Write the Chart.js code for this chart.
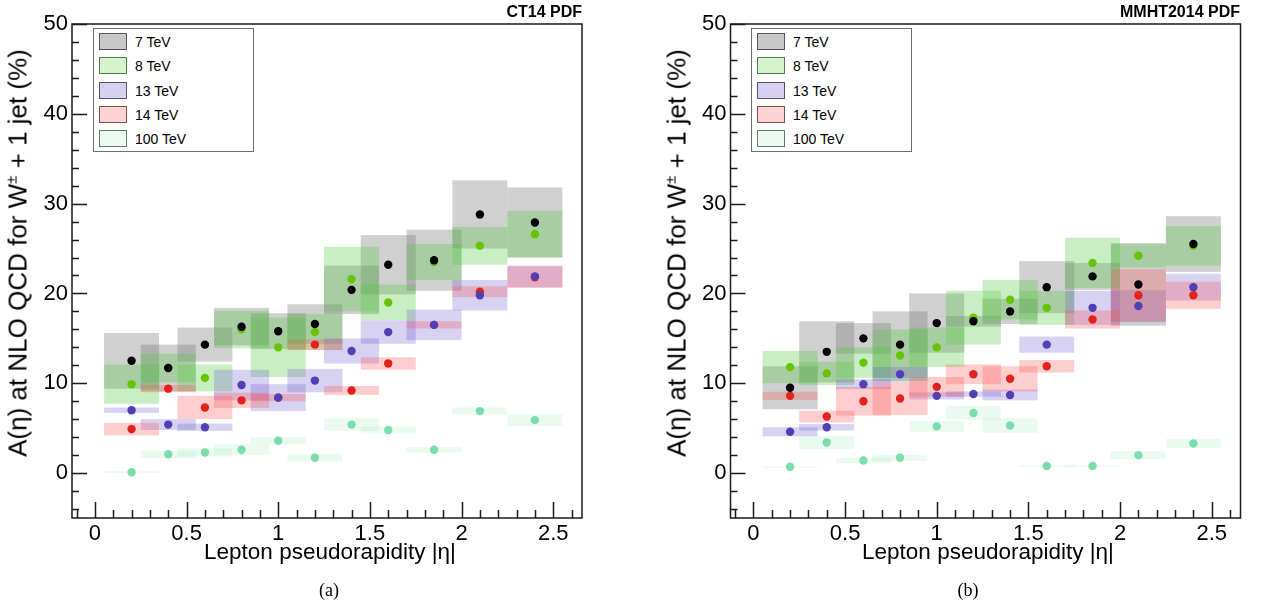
<!DOCTYPE html>
<html>
<head>
<meta charset="utf-8">
<script src="https://cdn.jsdelivr.net/npm/chart.js@4.4.1/dist/chart.umd.min.js"></script>
<style>
  body { margin: 0; width: 1265px; height: 607px; background: #fff; position: relative; overflow: hidden;
         font-family: "Liberation Sans", Arial, sans-serif; color: #000; }
  canvas { position: absolute; top: 0; }
  .ytitle { position: absolute; white-space: nowrap; font-size: 26px; transform: translate(-50%, -50%) rotate(-90deg); }
  .xtitle { position: absolute; white-space: nowrap; font-size: 22.5px; transform: translate(-50%, -50%); }
  .ptitle { position: absolute; white-space: nowrap; font-size: 16px; font-weight: bold; transform: translateX(-100%); }
  .caption { position: absolute; white-space: nowrap; font-size: 18px; font-family: "Liberation Serif", "DejaVu Serif", serif; transform: translate(-50%, -50%); }
  .legend { position: absolute; border: 1.5px solid #6e6e6e; background: #fff; width: 159px; height: 122px; }
  .legend .row { position: absolute; left: 5px; height: 18px; width: 150px; }
  .legend .sw { position: absolute; left: 0; top: 0; width: 26px; height: 15px; border: 1.5px solid #555; }
  .legend .lab { position: absolute; left: 36px; top: 0; font-size: 14px; line-height: 18px; white-space: nowrap; }
  sup { font-size: 15px; line-height: 0; }
</style>
</head>
<body>
<canvas id="chartCT14" width="640" height="607" style="left:0"></canvas>
<canvas id="chartMMHT" width="625" height="607" style="left:640px"></canvas>

<div class="ptitle" style="left:582px; top:3px">CT14 PDF</div>
<div class="ptitle" style="left:1240px; top:3px">MMHT2014 PDF</div>

<div class="ytitle" style="left:18px; top:253px">A(η) at NLO QCD for W<sup>±</sup> + 1 jet (%)</div>
<div class="ytitle" style="left:677px; top:253px">A(η) at NLO QCD for W<sup>±</sup> + 1 jet (%)</div>

<div class="xtitle" style="left:330px; top:552px">Lepton pseudorapidity |η|</div>
<div class="xtitle" style="left:988px; top:552px">Lepton pseudorapidity |η|</div>

<div class="caption" style="left:329px; top:590px">(a)</div>
<div class="caption" style="left:968px; top:590px">(b)</div>

<div class="legend" id="legendCT14" style="left:93px; top:28px"></div>
<div class="legend" id="legendMMHT" style="left:751px; top:28px"></div>

<script>
// bins in |eta|, each box is +-0.15 wide around the centre
const etaBins = [0.2, 0.4, 0.6, 0.8, 1.0, 1.2, 1.4, 1.6, 1.85, 2.1, 2.4];
const binHalfWidth = 0.15;

const seriesLabels = ["7 TeV", "8 TeV", "13 TeV", "14 TeV", "100 TeV"];
const pointColors = ["#000000", "#66c400", "#5040b4", "#e2231d", "#7ddcab"];
const boxColors = ["rgba(120,120,120,0.35)", "rgba(80,200,60,0.30)", "rgba(110,90,210,0.28)",
                   "rgba(250,80,80,0.28)", "rgba(100,220,150,0.13)"];
const swatchColors = ["#c8c8c8", "#d6f4cc", "#d6cff0", "#fcd2d2", "#ecfaf1"];
const swatchBorders = ["#555555", "#4f7a4f", "#55507a", "#7a5050", "#64786c"];

const yTickVals = [0, 10, 20, 30, 40, 50];
const xTickVals = [0, 0.5, 1, 1.5, 2, 2.5];

// (a) CT14 PDF
const ct14_7    = [12.5, 11.7, 14.3, 16.3, 15.8, 16.6, 20.4, 23.2, 23.7, 28.8, 27.9];
const ct14_7e   = [3.1, 2.6, 1.9, 2.1, 2.0, 2.2, 2.7, 3.3, 3.4, 3.8, 3.9];
const ct14_8    = [9.9, 11.7, 10.6, 16.0, 14.0, 15.7, 21.6, 19.0, 23.5, 25.3, 26.6];
const ct14_8e   = [2.2, 1.6, 1.5, 2.1, 3.3, 2.0, 3.6, 2.0, 2.0, 2.1, 2.6];
const ct14_13   = [7.0, 5.4, 5.1, 9.8, 8.4, 10.3, 13.6, 15.7, 16.5, 19.8, 21.9];
const ct14_13e  = [0.3, 0.6, 0.4, 1.7, 1.5, 1.3, 1.4, 1.3, 1.7, 1.7, 1.2];
const ct14_14   = [4.9, 9.4, 7.3, 8.1, 8.4, 14.3, 9.2, 12.2, 16.5, 20.2, 21.8];
const ct14_14e  = [0.7, 0.4, 1.3, 0.85, 0.4, 0.6, 0.5, 0.7, 0.4, 0.6, 1.2];
const ct14_100  = [0.1, 2.1, 2.3, 2.6, 3.6, 1.7, 5.4, 4.8, 2.6, 6.9, 5.9];
const ct14_100e = [0.1, 0.4, 0.45, 0.6, 0.4, 0.4, 0.7, 0.4, 0.3, 0.4, 0.65];

// (b) MMHT2014 PDF
const mmht_7    = [9.5, 13.5, 15.0, 14.3, 16.7, 16.9, 18.0, 20.7, 21.9, 21.0, 25.5];
const mmht_7e   = [2.4, 3.4, 1.7, 3.7, 3.3, 0.6, 1.4, 2.9, 1.5, 4.6, 3.1];
const mmht_8    = [11.8, 11.1, 12.3, 13.1, 14.0, 17.3, 19.3, 18.4, 23.4, 24.2, 25.3];
const mmht_8e   = [1.8, 1.3, 1.7, 2.9, 2.2, 3.0, 2.2, 1.9, 2.8, 1.3, 2.2];
const mmht_13   = [4.6, 5.1, 9.9, 11.0, 8.6, 8.8, 8.7, 14.3, 18.4, 18.6, 20.7];
const mmht_13e  = [0.5, 0.35, 0.55, 0.8, 0.4, 0.3, 0.6, 0.9, 1.9, 1.8, 1.5];
const mmht_14   = [8.6, 6.3, 8.0, 8.3, 9.6, 11.0, 10.5, 11.9, 17.1, 19.8, 19.8];
const mmht_14e  = [0.45, 0.65, 1.6, 1.85, 1.1, 1.1, 1.4, 0.7, 1.0, 2.9, 1.5];
const mmht_100  = [0.7, 3.4, 1.4, 1.7, 5.2, 6.7, 5.3, 0.8, 0.8, 2.0, 3.3];
const mmht_100e = [0.05, 0.75, 0.3, 0.35, 0.6, 0.75, 0.8, 0.05, 0.05, 0.45, 0.5];

const FONT = '"Liberation Sans", Arial, sans-serif';

// error boxes under the points, frame and inward ticks on top (ROOT look)
function makeBoxPlugin(vals, errs) {
  return {
    id: "errBoxes",
    beforeDatasetsDraw(chart) {
      const { ctx, chartArea: a, scales: { x, y } } = chart;
      ctx.save();
      ctx.beginPath();
      ctx.rect(a.left, a.top, a.width, a.height);
      ctx.clip();
      vals.forEach((series, s) => {
        ctx.fillStyle = boxColors[s];
        series.forEach((v, i) => {
          const e = errs[s][i];
          const x0 = x.getPixelForValue(etaBins[i] - binHalfWidth);
          const x1 = x.getPixelForValue(etaBins[i] + binHalfWidth);
          const y0 = y.getPixelForValue(v + e);
          const y1 = y.getPixelForValue(v - e);
          ctx.fillRect(x0, y0, x1 - x0, Math.max(y1 - y0, 1.5));
        });
      });
      ctx.restore();
    },
    afterDraw(chart) {
      const { ctx, chartArea: a, scales: { x, y } } = chart;
      ctx.save();
      ctx.strokeStyle = "#1a1a1a";
      ctx.lineWidth = 1.5;
      ctx.strokeRect(a.left, a.top, a.width, a.height);
      ctx.beginPath();
      for (let k = -2; k <= 25; k++) {
        const py = Math.round(y.getPixelForValue(k * 2)) + 0.5;
        const len = (k * 2) % 10 === 0 ? 15 : 7;
        ctx.moveTo(a.left, py);
        ctx.lineTo(a.left + len, py);
      }
      for (let k = -1; k <= 26; k++) {
        const px = Math.round(x.getPixelForValue(k / 10)) + 0.5;
        const len = k % 5 === 0 ? 16 : 8;
        ctx.moveTo(px, a.bottom);
        ctx.lineTo(px, a.bottom - len);
      }
      ctx.stroke();
      ctx.restore();
    }
  };
}

function buildPanel(canvasId, vals, errs, yAxisWidth, padRight) {
  const datasets = vals.map((series, s) => ({
    label: seriesLabels[s],
    data: series.map((v, i) => ({ x: etaBins[i], y: v })),
    pointRadius: 4.2,
    pointBackgroundColor: pointColors[s],
    pointBorderWidth: 0,
    showLine: false
  }));

  return new Chart(document.getElementById(canvasId), {
    type: "scatter",
    data: { datasets },
    options: {
      responsive: false,
      animation: false,
      events: [],
      layout: { padding: { top: 24, right: padRight, left: 0, bottom: 0 } },
      plugins: { legend: { display: false }, tooltip: { enabled: false } },
      scales: {
        x: {
          type: "linear", min: -0.125, max: 2.657,
          grid: { display: false, drawTicks: false },
          border: { display: false },
          afterBuildTicks: s => { s.ticks = xTickVals.map(v => ({ value: v })); },
          afterFit: s => { s.height = 89; },
          ticks: { font: { family: FONT, size: 22 }, color: "#000", padding: 3,
                   maxRotation: 0, autoSkip: false, callback: v => String(v) }
        },
        y: {
          type: "linear", min: -5, max: 50,
          grid: { display: false, drawTicks: false },
          border: { display: false },
          afterBuildTicks: s => { s.ticks = yTickVals.map(v => ({ value: v })); },
          afterFit: s => { s.width = yAxisWidth; },
          ticks: { font: { family: FONT, size: 22 }, color: "#000", padding: 4, callback: v => String(v) }
        }
      }
    },
    plugins: [makeBoxPlugin(vals, errs)]
  });
}

function buildLegend(id) {
  const box = document.getElementById(id);
  box.innerHTML = seriesLabels.map((lab, s) => `
    <div class="row" style="top:${4 + s * 24.3}px">
      <div class="sw" style="background:${swatchColors[s]};border-color:${swatchBorders[s]}"></div>
      <div class="lab">${lab}</div>
    </div>`).join("");
}

buildPanel("chartCT14",
  [ct14_7, ct14_8, ct14_13, ct14_14, ct14_100],
  [ct14_7e, ct14_8e, ct14_13e, ct14_14e, ct14_100e], 72, 58);
buildPanel("chartMMHT",
  [mmht_7, mmht_8, mmht_13, mmht_14, mmht_100],
  [mmht_7e, mmht_8e, mmht_13e, mmht_14e, mmht_100e], 90.5, 24.5);

buildLegend("legendCT14");
buildLegend("legendMMHT");
</script>
</body>
</html>
